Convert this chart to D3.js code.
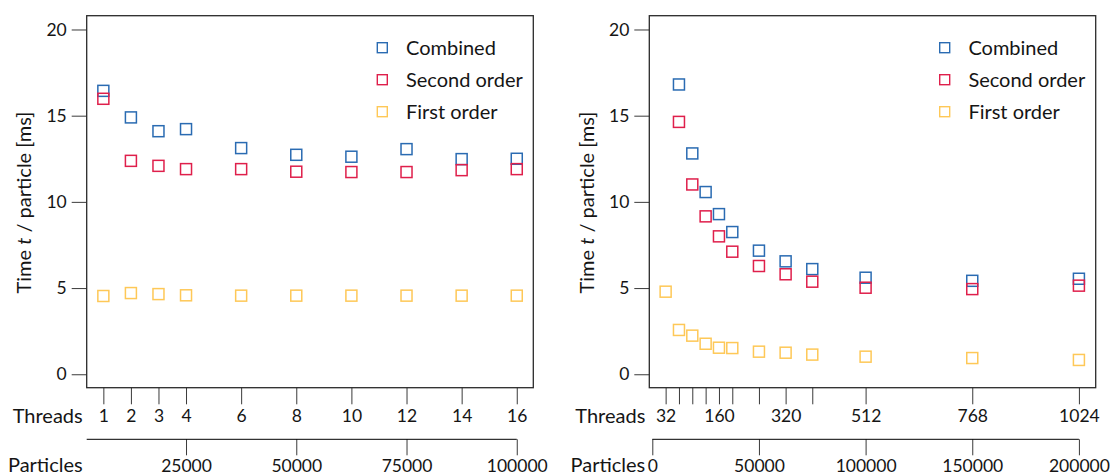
<!DOCTYPE html>
<html>
<head>
<meta charset="utf-8">
<script src="https://cdnjs.cloudflare.com/ajax/libs/d3/7.8.5/d3.min.js"></script>
<style>
  body { margin: 0; background: #fff; }
  svg text { font-family: Lato, 'Open Sans', sans-serif; fill: #151515; }
</style>
</head>
<body>
<div id="chart"></div>
<script>
const seriesNames = ['Combined', 'Second order', 'First order'];
const seriesColors = ['#2a6bb2', '#df1f4b', '#fec857'];
const yTicks = [0, 5, 10, 15, 20];

// left panel: 1..16 threads, 6250 particles per thread
const leftThreads = [1, 2, 3, 4, 6, 8, 10, 12, 14, 16];
const leftCombined = [16.44, 14.9, 14.1, 14.22, 13.12, 12.73, 12.62, 13.06, 12.48, 12.5];
const leftSecond = [15.98, 12.38, 12.09, 11.9, 11.9, 11.75, 11.73, 11.73, 11.84, 11.9];
const leftFirst = [4.54, 4.71, 4.65, 4.58, 4.56, 4.56, 4.56, 4.56, 4.56, 4.56];
const leftThreadLabels = [1, 2, 3, 4, 6, 8, 10, 12, 14, 16];
const leftParticleTicks = [25000, 50000, 75000, 100000];

// right panel: 32..1024 threads, 200000 particles at 1024 threads
const rightThreads = [32, 64, 96, 128, 160, 192, 256, 320, 384, 512, 768, 1024];
const rightCombined = [null, 16.81, 12.81, 10.57, 9.29, 8.25, 7.17, 6.55, 6.1, 5.6, 5.42, 5.54];
const rightSecond = [null, 14.64, 11.01, 9.16, 8.0, 7.11, 6.28, 5.8, 5.37, 5.02, 4.94, 5.14];
const rightFirst = [4.79, 2.57, 2.24, 1.77, 1.54, 1.52, 1.31, 1.25, 1.14, 1.02, 0.94, 0.83];
const rightThreadLabels = [32, 160, 320, 512, 768, 1024];
const rightParticleTicks = [0, 50000, 100000, 150000, 200000];

const width = 1110;
const height = 475;
const plotTop = 15.7;
const plotBottom = 387.7;
const markerSize = 11;
const labelSize = '20px';
const tickSize = '17.5px';

const svg = d3
  .select('#chart')
  .append('svg')
  .attr('width', width)
  .attr('height', height);

const y = d3
  .scaleLinear()
  .domain([-0.78, 20.8])
  .range([plotBottom, plotTop]);

function drawPanel(p) {
  const x = d3
    .scaleLinear()
    .domain(p.threadDomain)
    .range([p.left, p.right]);

  const xParticles = d3
    .scaleLinear()
    .domain(p.threadDomain.map(t => t * p.perThread))
    .range([p.left, p.right]);

  const g = svg.append('g');

  // y axis, ticks outside the box
  const yAxis = g
    .append('g')
    .attr('transform', `translate(${p.left}, 0)`)
    .call(d3.axisLeft(y).tickValues(yTicks).tickSize(15).tickPadding(5));
  yAxis.select('.domain').remove();
  yAxis.selectAll('text').style('font-size', tickSize);

  g.append('text')
    .attr('transform', `translate(${p.left - 55.7}, 202.5) rotate(-90)`)
    .attr('text-anchor', 'middle')
    .style('font-size', labelSize)
    .call(t => {
      t.append('tspan').text('Time ');
      t.append('tspan').style('font-style', 'italic').text('t');
      t.append('tspan').text(' / particle [ms]');
    });

  // threads axis
  const tAxis = g
    .append('g')
    .attr('transform', `translate(0, ${plotBottom})`)
    .call(
      d3
        .axisBottom(x)
        .tickValues(p.threads)
        .tickSize(16.6)
        .tickPadding(5)
        .tickFormat(d => (p.threadLabels.includes(d) ? d : ''))
    );
  tAxis.select('.domain').remove();
  tAxis.selectAll('text').style('font-size', tickSize);

  g.append('text')
    .attr('x', p.left - 4)
    .attr('y', 423.3)
    .attr('text-anchor', 'end')
    .style('font-size', labelSize)
    .text('Threads');

  // particles axis
  const pAxis = g
    .append('g')
    .attr('transform', 'translate(0, 439.3)')
    .call(
      d3
        .axisBottom(xParticles)
        .tickValues(p.particleTicks)
        .tickSize(16)
        .tickPadding(4)
        .tickFormat(d3.format('d'))
    );
  pAxis.select('.domain').remove();
  pAxis.selectAll('text').style('font-size', tickSize);
  pAxis
    .append('line')
    .attr('x1', Math.max(p.left, xParticles(0)))
    .attr('x2', xParticles(d3.max(p.particleTicks)))
    .attr('stroke', 'currentColor');

  g.append('text')
    .attr('x', p.left - 4)
    .attr('y', 472)
    .attr('text-anchor', 'end')
    .style('font-size', labelSize)
    .text('Particles');

  g.selectAll('.tick line').attr('stroke', '#3a3a3a');

  // plot frame
  g.append('rect')
    .attr('x', p.left)
    .attr('y', plotTop)
    .attr('width', p.right - p.left)
    .attr('height', plotBottom - plotTop)
    .attr('fill', 'none')
    .attr('stroke', '#2a2a2a')
    .attr('stroke-width', 1.3);

  // markers
  p.series.forEach((values, i) => {
    const pts = p.threads
      .map((t, j) => ({ t, v: values[j] }))
      .filter(d => d.v !== null);
    g.append('g')
      .selectAll('rect')
      .data(pts)
      .enter()
      .append('rect')
      .attr('x', d => x(d.t) - markerSize / 2)
      .attr('y', d => y(d.v) - markerSize / 2)
      .attr('width', markerSize)
      .attr('height', markerSize)
      .attr('fill', 'none')
      .attr('stroke', seriesColors[i])
      .attr('stroke-width', 1.5);
  });

  // legend
  const legend = g
    .selectAll('.legend')
    .data(seriesNames)
    .enter()
    .append('g')
    .attr('class', 'legend')
    .attr('transform', (d, i) => `translate(${p.right - 151}, ${47.7 + i * 32})`);
  legend
    .append('rect')
    .attr('x', -5)
    .attr('y', -5)
    .attr('width', 10)
    .attr('height', 10)
    .attr('fill', 'none')
    .attr('stroke', (d, i) => seriesColors[i])
    .attr('stroke-width', 1.4);
  legend
    .append('text')
    .attr('x', 23.7)
    .attr('y', 7)
    .style('font-size', labelSize)
    .text(d => d);
}

drawPanel({
  left: 86.7,
  right: 533.3,
  threadDomain: [0.396, 16.6],
  perThread: 6250,
  threads: leftThreads,
  threadLabels: leftThreadLabels,
  particleTicks: leftParticleTicks,
  series: [leftCombined, leftSecond, leftFirst]
});

drawPanel({
  left: 649.3,
  right: 1095.7,
  threadDomain: [-7.2, 1064.3],
  perThread: 195.3125,
  threads: rightThreads,
  threadLabels: rightThreadLabels,
  particleTicks: rightParticleTicks,
  series: [rightCombined, rightSecond, rightFirst]
});
</script>
</body>
</html>
